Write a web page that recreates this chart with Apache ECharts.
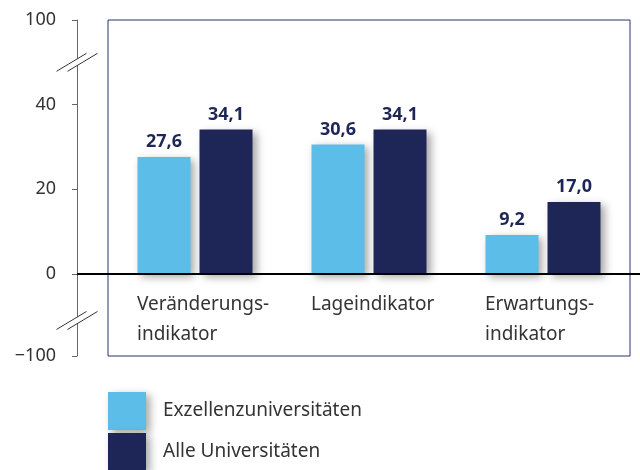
<!DOCTYPE html>
<html>
<head>
<meta charset="utf-8">
<script src="https://cdn.jsdelivr.net/npm/echarts@6/dist/echarts.min.js"></script>
<style>
html, body { margin: 0; padding: 0; background: #fff; }
#main { width: 640px; height: 470px; }
</style>
</head>
<body>
<div id="main"></div>
<script>
// Daten
var categories = ['Veränderungs-\nindikator', 'Lageindikator', 'Erwartungs-\nindikator'];
var exzellenz = [27.6, 30.6, 9.2];
var alle = [34.1, 34.1, 17.0];
var seriesNames = ['Exzellenzuniversitäten', 'Alle Universitäten'];
// gebrochene Achse: interne Werte -> angezeigte Beschriftung
var yTickValues = [-19.4, 0, 20, 40, 60];
var yTickLabels = ['\u2212100', '0', '20', '40', '100'];

var hell = '#5cbde9';
var dunkel = '#1e2657';
var font = 'Noto Sans';

var chart = echarts.init(document.getElementById('main'), null, { renderer: 'canvas' });

var shadow = {
    shadowBlur: 8,
    shadowColor: 'rgba(0,0,0,0.35)',
    shadowOffsetX: 4,
    shadowOffsetY: 3
};

var labelFmt = function (p) {
    return p.value.toFixed(1).replace('.', ',');
};

var option = {
    animation: false,
    textStyle: { fontFamily: font },
    grid: {
        left: 108,
        right: 10,
        top: 20,
        bottom: 114,
        show: true,
        borderColor: '#2b3473',
        borderWidth: 1,
        backgroundColor: 'transparent'
    },
    legend: {
        orient: 'vertical',
        left: 108,
        top: 392,
        height: 120,
        padding: 0,
        itemWidth: 38,
        itemHeight: 38,
        itemGap: 3,
        icon: 'rect',
        data: seriesNames,
        textStyle: { fontFamily: font, fontSize: 19, color: '#333', padding: [0, 0, 0, 12] },
        itemStyle: shadow
    },
    xAxis: {
        type: 'category',
        data: categories,
        axisTick: { show: false },
        axisLine: { show: false, onZero: false },
        axisLabel: {
            margin: -66,
            align: 'center',
            verticalAlign: 'top',
            formatter: function (v) {
                return v.split('\n').map(function (s) { return '{a|' + s + '}'; }).join('\n');
            },
            rich: {
                a: { width: 116, align: 'left', fontSize: 19, lineHeight: 30, color: '#333', fontFamily: font }
            }
        }
    },
    yAxis: {
        type: 'value',
        min: yTickValues[0],
        max: 60,
        offset: 31,
        splitLine: { show: false },
        axisLine: { show: true, lineStyle: { color: '#666', width: 1 } },
        axisTick: { show: true, length: 5, customValues: yTickValues, lineStyle: { color: '#666' } },
        axisLabel: {
            margin: 21,
            fontSize: 18,
            color: '#333',
            fontFamily: font,
            customValues: yTickValues,
            formatter: function (v) {
                var i = yTickValues.indexOf(v);
                return i >= 0 ? yTickLabels[i] : '';
            }
        }
    },
    series: [
        {
            name: seriesNames[0],
            type: 'bar',
            data: exzellenz,
            barWidth: 53,
            barGap: '17%',
            itemStyle: Object.assign({ color: hell }, shadow),
            label: {
                show: true, position: 'top', distance: 6, formatter: labelFmt,
                fontSize: 18, fontWeight: 'bold', color: dunkel, fontFamily: font
            }
        },
        {
            name: seriesNames[1],
            type: 'bar',
            data: alle,
            barWidth: 53,
            barGap: '17%',
            itemStyle: Object.assign({ color: dunkel }, shadow),
            label: {
                show: true, position: 'top', distance: 6, formatter: labelFmt,
                fontSize: 18, fontWeight: 'bold', color: dunkel, fontFamily: font
            }
        }
    ]
};

chart.setOption(option);

// Nulllinie (über die Achse hinaus) und Achsenbruch-Zeichen
var axisX = 77;
var y0 = chart.convertToPixel({ yAxisIndex: 0 }, 0);
function bruch(yc) {
    var dx = 15, dy = 9, off = 5.5;
    return [
        {
            type: 'polygon', z: 100,
            shape: { points: [[axisX - dx - off, yc + dy], [axisX + dx - off, yc - dy], [axisX + dx + off, yc - dy], [axisX - dx + off, yc + dy]] },
            style: { fill: '#fff' }
        },
        {
            type: 'line', z: 101,
            shape: { x1: axisX - dx - off, y1: yc + dy, x2: axisX + dx - off, y2: yc - dy },
            style: { stroke: '#333', lineWidth: 1 }
        },
        {
            type: 'line', z: 101,
            shape: { x1: axisX - dx + off, y1: yc + dy, x2: axisX + dx + off, y2: yc - dy },
            style: { stroke: '#333', lineWidth: 1 }
        }
    ];
}
chart.setOption({
    graphic: [
        {
            type: 'line', z: 50,
            shape: { x1: axisX, y1: y0, x2: 640, y2: y0 },
            style: { stroke: '#000', lineWidth: 2 }
        }
    ].concat(bruch(chart.convertToPixel({ yAxisIndex: 0 }, 50)))
     .concat(bruch(chart.convertToPixel({ yAxisIndex: 0 }, -11)))
});
</script>
</body>
</html>
